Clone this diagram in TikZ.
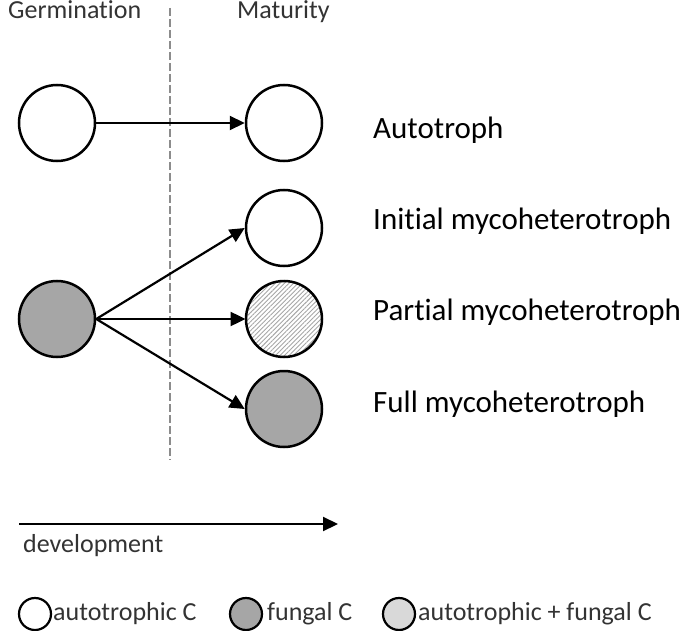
\documentclass[tikz,border=0pt]{standalone}
\usepackage{fontspec}
\setmainfont[Ligatures=CommonOff]{Carlito}
\usetikzlibrary{positioning,arrows.meta,patterns.meta}
\definecolor{fungalgrey}{HTML}{A6A6A6}
\definecolor{mixgrey}{HTML}{D9D9D9}
\definecolor{dividergrey}{HTML}{8C8C8C}
\tikzset{
  devarrow/.style={-{Triangle[length=15pt, width=14pt]}, line width=2.2pt},
  stagenode/.style={draw, circle, line width=2.5pt, minimum size=76pt, inner sep=0pt},
  autonode/.style={stagenode, fill=white},
  fungalnode/.style={stagenode, fill=fungalgrey},
  mixnode/.style={stagenode, pattern={Lines[angle=45, distance=3.2pt, line width=0.9pt]}, pattern color=gray!70},
  keynode/.style={draw, circle, line width=2.2pt, minimum size=32pt, inner sep=0pt},
  typelabel/.style={anchor=base west, inner sep=0pt, font=\fontsize{31}{36}\selectfont},
  smalllabel/.style={anchor=base west, inner sep=0pt, font=\fontsize{26}{30}\selectfont, text=black!80}
}

\begin{document}
\begin{tikzpicture}[x=1pt, y=-1pt]
  \useasboundingbox (0,0) rectangle (690,631);
  % stages
  \node[smalllabel] (germ) at (8,19) {Germination};
  \node[smalllabel] (matur) at (237,19) {Maturity};
  \draw[dividergrey, line width=2pt, dash pattern=on 8pt off 3pt] (170,8) -- (170,460);
  % seedlings and adults
  \node[autonode] (g1) at (57,123) {};
  \node[fungalnode] (g2) at (57,319) {};
  \node[autonode] (m1) at (284,123) {};
  \node[autonode] (m2) at (284,228) {};
  \node[mixnode] (m3) at (284,319) {};
  \node[fungalnode] (m4) at (284,409) {};
  \draw[devarrow] (g1.east) -- (m1.west);
  \draw[devarrow] (g2.east) -- (m2.west);
  \draw[devarrow] (g2.east) -- (m3.west);
  \draw[devarrow] (g2.east) -- (m4.west);
  \node[typelabel] (t1) at (373,139) {Autotroph};
  \node[typelabel] (t2) at (373,229) {Initial mycoheterotroph};
  \node[typelabel] (t3) at (373,320) {Partial mycoheterotroph};
  \node[typelabel] (t4) at (373,412) {Full mycoheterotroph};
  % development axis
  \coordinate (devstart) at (19,524);
  \coordinate (devend) at (338,524);
  \draw[devarrow] (devstart) -- (devend);
  \node[smalllabel] (devtext) at (23,552) {development};
  % key
  \node[keynode, fill=white] (k1) at (35,614) {};
  \node[keynode, fill=fungalgrey] (k2) at (246,614) {};
  \node[keynode, fill=mixgrey] (k3) at (399,614) {};
  \node[smalllabel] (k1text) at (53,620) {autotrophic C};
  \node[smalllabel] (k2text) at (267,620) {fungal C};
  \node[smalllabel] (k3text) at (418,620) {autotrophic + fungal C};
\end{tikzpicture}
\end{document}
